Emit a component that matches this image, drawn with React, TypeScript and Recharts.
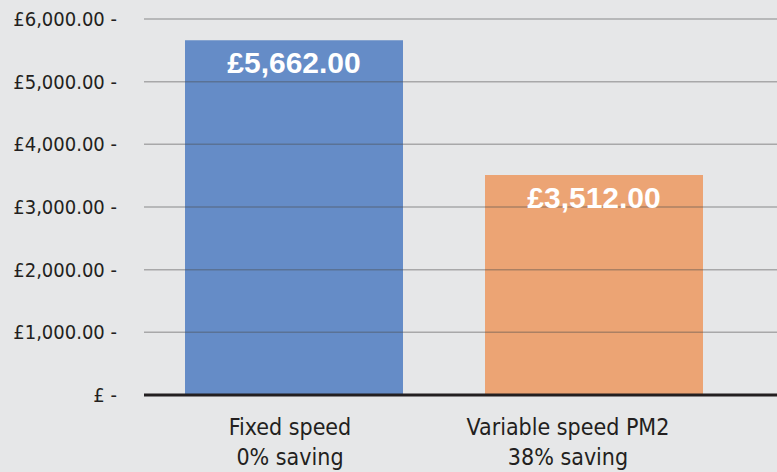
import React from "react";
import { BarChart, Bar, XAxis, YAxis, ReferenceLine, LabelList, Cell } from "recharts";

const categories = ["Fixed speed|0% saving", "Variable speed PM2|38% saving"];
const costs = [5662, 3512];
const barColors = ["#658cc7", "#eca474"];
const yTicks = [0, 1000, 2000, 3000, 4000, 5000, 6000];

const data = categories.map((c, i) => ({ name: c, cost: costs[i] }));

const fmtMoney = (v: number) =>
  "£" + v.toLocaleString("en-GB", { minimumFractionDigits: 2, maximumFractionDigits: 2 });

const NARROW = "'Liberation Sans Narrow', 'DejaVu Sans Condensed', 'Liberation Sans', sans-serif";

const YTick = (props: any) => {
  const { x, y, payload } = props;
  const v = payload.value as number;
  const label = v === 0 ? "£ -" : fmtMoney(v) + " -";
  return (
    <text x={x - 19} y={y} dy={7} textAnchor="end" fill="#231f20" fontSize={20} fontFamily={NARROW}>
      {label}
    </text>
  );
};

const xShift = [-4, -26];
const XTick = (props: any) => {
  const { x, y, payload, index } = props;
  const lines = String(payload.value).split("|");
  const dx = xShift[index] ?? 0;
  return (
    <g>
      {lines.map((l, i) => (
        <text
          key={i}
          x={x + dx}
          y={y + 32 + i * 30}
          textAnchor="middle"
          fill="#231f20"
          fontSize={23}
          fontFamily={NARROW}
        >
          {l}
        </text>
      ))}
    </g>
  );
};

export default function App() {
  return (
    <div style={{ position: "absolute", left: 0, top: 0, width: 777, height: 472, background: "#e6e7e8" }}>
      <BarChart
        width={777}
        height={472}
        data={data}
        margin={{ top: 19, right: 0, bottom: 0, left: 0 }}
        barSize={218}
      >
        <YAxis
          width={144}
          domain={[0, 6000]}
          ticks={yTicks}
          axisLine={false}
          tickLine={false}
          tick={<YTick />}
          interval={0}
        />
        <XAxis
          dataKey="name"
          height={77}
          padding={{ left: 0, right: 33 }}
          axisLine={{ stroke: "#231f20", strokeWidth: 3 }}
          tickLine={false}
          tick={<XTick />}
          interval={0}
        />
        <Bar dataKey="cost" isAnimationActive={false}>
          {data.map((d, i) => (
            <Cell key={d.name} fill={barColors[i]} />
          ))}
          <LabelList
            dataKey="cost"
            position="insideTop"
            offset={12}
            formatter={(v: any) => fmtMoney(Number(v))}
            fill="#ffffff"
            fontSize={30}
            fontWeight="bold"
            fontFamily="'Liberation Sans', Arial, sans-serif"
          />
        </Bar>
        {yTicks.filter((t) => t > 0).map((t) => (
          <ReferenceLine key={t} y={t} stroke="#4a4a4a" strokeOpacity={0.4} strokeWidth={1.5} />
        ))}
      </BarChart>
    </div>
  );
}
